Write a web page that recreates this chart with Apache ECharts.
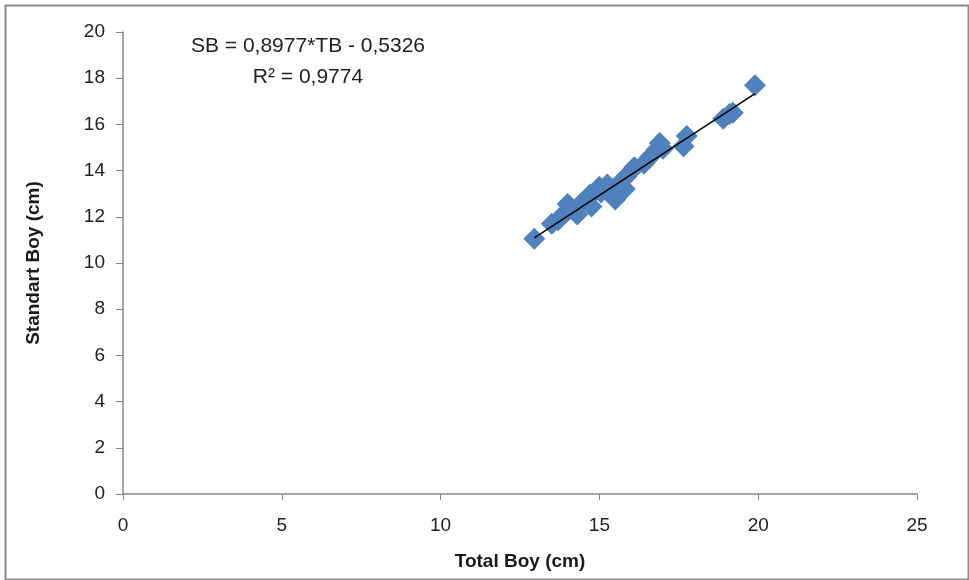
<!DOCTYPE html>
<html>
<head>
<meta charset="utf-8">
<script src="https://cdn.jsdelivr.net/npm/echarts@6/dist/echarts.min.js"></script>
<style>
html,body{margin:0;padding:0;background:#fff;}
#chart{width:969px;height:580px;}
</style>
</head>
<body>
<div id="chart"></div>
<script>
// Total Boy (cm)
var totalBoy = [12.95,13.5,13.7,13.9,14.0,14.05,14.3,14.4,14.6,14.7,14.75,15.0,15.05,15.25,15.4,15.5,15.55,15.7,15.85,15.8,16.05,16.1,16.4,16.6,16.8,16.9,17.0,17.65,17.75,18.9,19.1,19.2,19.9];
// Standart Boy (cm)
var standartBoy = [11.05,11.7,11.85,12.15,12.55,12.3,12.1,12.55,12.75,12.95,12.45,13.3,13.05,13.4,12.95,12.75,13.3,13.55,13.75,13.2,14.05,14.15,14.3,14.6,14.9,15.2,14.95,15.05,15.5,16.25,16.45,16.5,17.7];
var slope = 0.8977, intercept = -0.5326;
var xTicks = [0,5,10,15,20,25];
var yTicks = [0,2,4,6,8,10,12,14,16,18,20];

var pts = totalBoy.map(function(x,i){return [x, standartBoy[i]];});
var xmin = Math.min.apply(null,totalBoy), xmax = Math.max.apply(null,totalBoy);
var trend = [[xmin, slope*xmin+intercept],[xmax, slope*xmax+intercept]];

var axisColor = '#878787';
var font = 'Liberation Sans';
var chart = echarts.init(document.getElementById('chart'));
chart.setOption({
  animation:false,
  grid:{left:123,right:52,top:32,bottom:86},
  xAxis:{type:'value',min:xTicks[0],max:xTicks[xTicks.length-1],interval:5,
    name:'Total Boy (cm)',nameLocation:'middle',nameGap:58,
    nameTextStyle:{fontFamily:font,fontWeight:'bold',fontSize:19,color:'#1a1a1a'},
    axisLine:{show:true,lineStyle:{color:axisColor,width:1.5}},
    axisTick:{show:true,length:6,lineStyle:{color:axisColor}},
    axisLabel:{fontFamily:font,fontSize:19,color:'#222',margin:22},
    splitLine:{show:false}},
  yAxis:{type:'value',min:yTicks[0],max:yTicks[yTicks.length-1],interval:2,
    name:'Standart Boy (cm)',nameLocation:'middle',nameGap:80,nameRotate:90,
    nameTextStyle:{fontFamily:font,fontWeight:'bold',fontSize:19,color:'#1a1a1a'},
    axisLine:{show:true,lineStyle:{color:axisColor,width:1.5}},
    axisTick:{show:true,length:7,lineStyle:{color:axisColor}},
    axisLabel:{fontFamily:font,fontSize:19,color:'#222',margin:18},
    splitLine:{show:false}},
  graphic:[
    {type:'rect',left:3,top:3,shape:{width:963,height:574},style:{fill:'none',stroke:'#8c8c8c',lineWidth:2},silent:true},
    {type:'text',x:308,y:36,style:{text:'SB = 0,8977*TB - 0,5326',font:'21px Liberation Sans',fill:'#222',textAlign:'center'}},
    {type:'text',x:308,y:67,style:{text:'R² = 0,9774',font:'21px Liberation Sans',fill:'#222',textAlign:'center'}}
  ],
  series:[
    {type:'scatter',data:pts,symbol:'diamond',symbolSize:[22,22],itemStyle:{color:'#4F81BD',opacity:1},z:2},
    {type:'line',data:trend,symbol:'none',lineStyle:{color:'#000',width:1.5},z:3}
  ]
});
</script>
</body>
</html>
